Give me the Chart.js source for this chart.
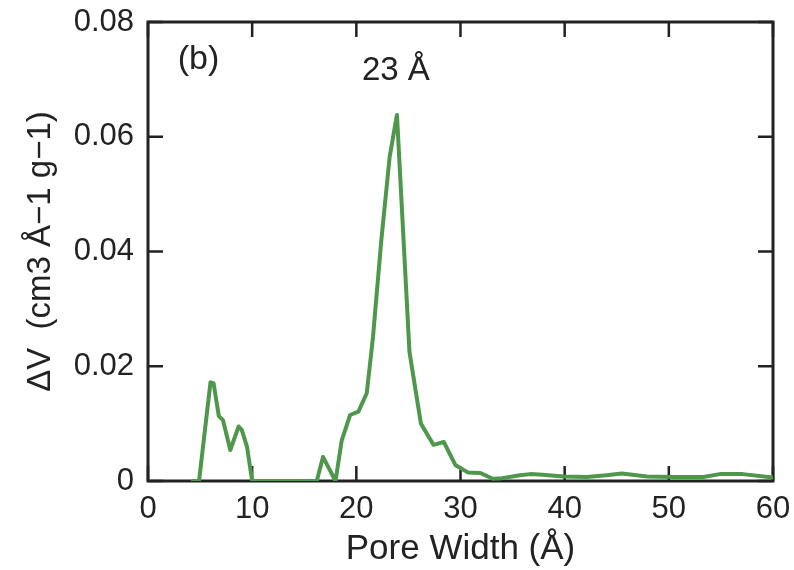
<!DOCTYPE html>
<html>
<head>
<meta charset="utf-8">
<script src="https://cdn.jsdelivr.net/npm/chart.js@4.4.1/dist/chart.umd.min.js"></script>
<style>
  html, body { margin: 0; padding: 0; background: #fff; }
</style>
</head>
<body>
<canvas id="chart" width="794" height="570"></canvas>
<script>
// --- DATA ---
const poreWidth = [4.3, 4.9, 6.0, 6.3, 6.8, 7.2, 7.9, 8.7, 9.0, 9.5, 10.0,
  16.2, 16.8, 18.0, 18.6, 19.4, 20.2, 21.0, 21.6, 22.4, 23.2, 23.9, 25.1,
  26.2, 27.4, 28.4, 29.5, 30.7, 31.9, 33.1, 34.0, 35.7, 36.7, 37.9, 39.9,
  42.1, 44.0, 45.5, 47.9, 50.4, 53.3, 54.9, 57.1, 60.0];
const deltaV = [0, 0, 0.0172, 0.0170, 0.0113, 0.0106, 0.0054, 0.0095, 0.0089, 0.0060, 0,
  0, 0.0042, 0, 0.0071, 0.0115, 0.0121, 0.0153, 0.0251, 0.0420, 0.0565, 0.0638, 0.0225,
  0.0100, 0.0063, 0.0068, 0.0028, 0.0015, 0.0014, 0.0004, 0.0005, 0.0010, 0.0012, 0.0011, 0.0008,
  0.0007, 0.0010, 0.0013, 0.0008, 0.0007, 0.0007, 0.0012, 0.0012, 0.0006];
const xTicks = [0, 10, 20, 30, 40, 50, 60];
const yTicks = [0, 0.02, 0.04, 0.06, 0.08];

const FONT = "'Liberation Sans', Arial, sans-serif";
const INK = '#222222';
const TICK_LEN = 15;

// frame, inward ticks and the two text notes
const framePlugin = {
  id: 'frame',
  beforeDatasetsDraw(chart) {
    const { ctx, chartArea: a, scales: { x, y } } = chart;
    ctx.save();
    ctx.strokeStyle = INK;
    ctx.lineWidth = 3;
    ctx.strokeRect(a.left, a.top, a.right - a.left, a.bottom - a.top);
    ctx.lineWidth = 2.5;
    ctx.beginPath();
    xTicks.forEach(v => {
      const px = x.getPixelForValue(v);
      ctx.moveTo(px, a.bottom); ctx.lineTo(px, a.bottom - TICK_LEN);
      ctx.moveTo(px, a.top); ctx.lineTo(px, a.top + TICK_LEN);
    });
    yTicks.forEach(v => {
      const py = y.getPixelForValue(v);
      ctx.moveTo(a.left, py); ctx.lineTo(a.left + TICK_LEN, py);
      ctx.moveTo(a.right, py); ctx.lineTo(a.right - TICK_LEN, py);
    });
    ctx.stroke();
    ctx.restore();
  },
  afterDatasetsDraw(chart) {
    const { ctx, scales: { x, y } } = chart;
    ctx.save();
    ctx.fillStyle = INK;
    ctx.textBaseline = 'alphabetic';
    ctx.font = `34px ${FONT}`;
    ctx.textAlign = 'left';
    ctx.fillText('(b)', x.getPixelForValue(2.85), y.getPixelForValue(0.0718));
    ctx.font = `33px ${FONT}`;
    ctx.textAlign = 'center';
    ctx.fillText('23 Å', x.getPixelForValue(23.8), y.getPixelForValue(0.0699));
    ctx.restore();
  }
};

new Chart(document.getElementById('chart'), {
  type: 'line',
  data: {
    datasets: [{
      data: poreWidth.map((w, i) => ({ x: w, y: deltaV[i] })),
      borderColor: '#4e974b',
      borderWidth: 4,
      borderJoinStyle: 'round',
      borderCapStyle: 'round',
      pointRadius: 0,
      tension: 0,
      fill: false
    }]
  },
  options: {
    responsive: false,
    animation: false,
    layout: { padding: { left: 21, right: 21, top: 22, bottom: 0 } },
    plugins: { legend: { display: false }, tooltip: { enabled: false } },
    scales: {
      x: {
        type: 'linear',
        min: 0, max: 60,
        afterBuildTicks: s => { s.ticks = xTicks.map(v => ({ value: v })); },
        afterFit: s => { s.height = 89; s.paddingLeft = 0; s.paddingRight = 0; },
        grid: { display: false, drawTicks: false },
        border: { display: false },
        ticks: { color: INK, font: { family: FONT, size: 31 }, padding: 10, maxRotation: 0 },
        title: { display: true, text: 'Pore Width (Å)', color: INK,
                 font: { family: FONT, size: 35 }, padding: { top: 0, bottom: 0 } }
      },
      y: {
        min: 0, max: 0.08,
        afterBuildTicks: s => { s.ticks = yTicks.map(v => ({ value: v })); },
        afterFit: s => { s.width = 127; s.paddingTop = 0; s.paddingBottom = 0; },
        grid: { display: false, drawTicks: false },
        border: { display: false },
        ticks: { color: INK, font: { family: FONT, size: 31 }, padding: 14,
                 callback: v => v === 0 ? '0' : v.toFixed(2) },
        title: { display: true, text: 'ΔV  (cm3 Å−1 g−1)', color: INK,
                 font: { family: FONT, size: 33 }, padding: { top: 0, bottom: 0 } }
      }
    }
  },
  plugins: [framePlugin]
});
</script>
</body>
</html>
